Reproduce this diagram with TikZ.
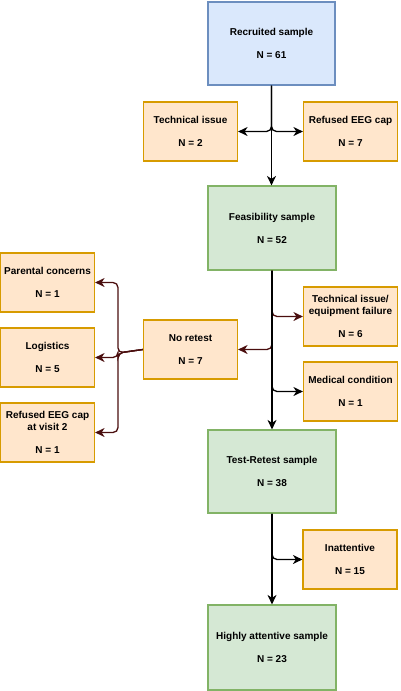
\documentclass[tikz,border=0pt]{standalone}
\usepackage{fontspec}
\setmainfont{Liberation Sans}
\usetikzlibrary{arrows.meta}
\definecolor{bluefill}{HTML}{DAE8FC}
\definecolor{bluedraw}{HTML}{6C8EBF}
\definecolor{greenfill}{HTML}{D5E8D4}
\definecolor{greendraw}{HTML}{82B366}
\definecolor{orangefill}{HTML}{FFE6CC}
\definecolor{orangedraw}{HTML}{D79B00}
\definecolor{darkred}{HTML}{4A0E0E}
\tikzset{
  box/.style={draw, line width=1.2pt, minimum width=#1, inner sep=0pt, align=center,
     font=\fontsize{10pt}{11.5pt}\selectfont\bfseries},
  bluebox/.style={box=127pt, fill=bluefill, draw=bluedraw, minimum height=83pt},
  greenbox/.style={box=128pt, fill=greenfill, draw=greendraw, minimum height=84pt},
  orbox/.style={box=94pt, fill=orangefill, draw=orangedraw, minimum height=59pt},
  arr/.style={line width=1.3pt, rounded corners=5pt, -{Stealth[length=9.5pt,width=9pt,inset=3pt]}},
  darr/.style={arr, draw=darkred}
}
\begin{document}
\begin{tikzpicture}[x=1pt,y=-1pt]
\useasboundingbox (0,0) rectangle (400,691);
\node[bluebox] (rec) at (271.5,43.5) {Recruited sample\\[11.5pt]N = 61};
\node[orbox] (tech) at (190.5,131.5) {Technical issue\\[11.5pt]N = 2};
\node[orbox] (refused) at (350.5,131.5) {Refused EEG cap\\[11.5pt]N = 7};
\node[greenbox] (feas) at (272,228) {Feasibility sample\\[11.5pt]N = 52};
\node[orbox] (techfail) at (350.5,316.5) {Technical issue/\\equipment failure\\[11.5pt]N = 6};
\node[orbox] (med) at (350.5,391.5) {Medical condition\\[11.5pt]N = 1};
\node[orbox] (noretest) at (190.5,349.5) {No retest\\[11.5pt]N = 7};
\node[orbox] (parental) at (47.5,282.5) {Parental concerns\\[11.5pt]N = 1};
\node[orbox] (logistics) at (47.5,357.5) {Logistics\\[11.5pt]N = 5};
\node[orbox] (refused2) at (47.5,432.5) {Refused EEG cap\\at visit 2\\[11.5pt]N = 1};
\node[greenbox, minimum height=83pt] (tr) at (272,471.5) {Test-Retest sample\\[11.5pt]N = 38};
\node[orbox] (inatt) at (350,559.5) {Inattentive\\[11.5pt]N = 15};
\node[greenbox, minimum height=85pt] (high) at (272,647.5) {Highly attentive sample\\[11.5pt]N = 23};

\draw[arr] (rec.south) |- (tech.east);
\draw[arr] (rec.south) |- (refused.west);
\draw[arr] (rec.south) -- (rec.south |- feas.north);

\draw[darr] (feas.south) |- (techfail.west);
\draw[darr] (feas.south) |- (noretest.east);
\draw[arr] (feas.south) |- (med.west);
\draw[arr] (feas.south) -- (feas.south |- tr.north);

\coordinate (split) at (118,353);
\draw[darr] (noretest.west) -- (split) |- (parental.east);
\draw[darr] (noretest.west) -- (split) |- (logistics.east);
\draw[darr] (noretest.west) -- (split) |- (refused2.east);

\draw[arr] (tr.south) |- (inatt.west);
\draw[arr] (tr.south) -- (tr.south |- high.north);
\end{tikzpicture}
\end{document}
